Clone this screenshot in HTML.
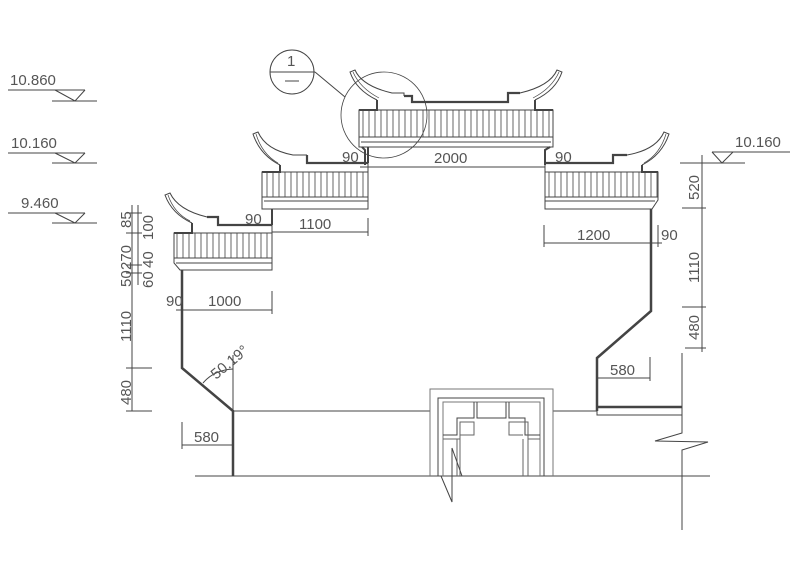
<!DOCTYPE html>
<html><head><meta charset="utf-8"><style>
html,body{margin:0;padding:0;background:#fff;}
svg{display:block;}
text{font-family:"Liberation Sans",sans-serif;fill:#555;font-size:15px;}
</style></head><body>
<svg width="800" height="566" viewBox="0 0 800 566" xmlns="http://www.w3.org/2000/svg">
<defs>
<pattern id="h" width="6" height="40" patternUnits="userSpaceOnUse">
<line x1="3" y1="0" x2="3" y2="40" stroke="#555" stroke-width="0.9"/>
</pattern>
</defs>
<g fill="none" stroke="#444" stroke-width="1">
<!-- elevation marks left -->
<line x1="8" y1="90" x2="85" y2="90"/><line x1="52" y1="101" x2="97" y2="101"/><path d="M55 90 L75 101 L85 90"/>
<line x1="8" y1="153" x2="85" y2="153"/><line x1="52" y1="163" x2="97" y2="163"/><path d="M55 153 L75 163 L85 153"/>
<line x1="8" y1="213" x2="85" y2="213"/><line x1="52" y1="223" x2="97" y2="223"/><path d="M55 213 L75 223 L85 213"/>
<!-- right elevation -->
<line x1="712" y1="152" x2="790" y2="152"/><line x1="680" y1="163" x2="745" y2="163"/><path d="M712 152 L722 163 L733 152"/>

<!-- callout -->
<circle cx="292" cy="72" r="22"/><line x1="270" y1="72" x2="315" y2="72"/><line x1="285" y1="81" x2="299" y2="81"/>
<line x1="315" y1="72" x2="345" y2="97"/>
<circle cx="384" cy="115" r="43" stroke-width="0.8"/>

<!-- Tier 1 -->
<rect x="359" y="110" width="194" height="27" fill="url(#h)"/>
<path d="M359 110 L359 147 L553 147 L553 110"/>
<line x1="359" y1="137" x2="553" y2="137"/><line x1="361" y1="142" x2="551" y2="142"/>
<path d="M362 147 L365 150 L365 165" stroke-width="2"/><path d="M550 147 L545 150 L545 165" stroke-width="2"/>
<path d="M359 110 L377 110 L377 100" stroke-width="2"/><path d="M553 110 L535 110 L535 100" stroke-width="2"/>
<path d="M404 96 L412 96 L412 102 L508 102 L508 93 L520 93" stroke-width="2.2"/>
<path d="M377 100 Q356 90 350 72 L355 70 Q362 86 392 93 L404 93 L404 96"/>
<path d="M535 100 Q556 90 562 72 L557 70 Q550 86 520 93"/>
<path d="M379 98 Q360 88 353 72 M533 98 Q552 88 559 72" stroke-width="0.7"/>

<!-- Tier 2 left -->
<rect x="262" y="172" width="106" height="25" fill="url(#h)"/>
<path d="M262 172 L262 209 L368 209 L368 163"/>
<line x1="262" y1="197" x2="368" y2="197"/><line x1="264" y1="201" x2="368" y2="201"/>
<path d="M262 172 L280 172 L280 165" stroke-width="2"/>
<path d="M307 155 L307 163 L368 163" stroke-width="2.2"/>
<path d="M280 165 Q260 155 253 134 L258 132 Q266 150 293 155 L307 155"/>
<path d="M278 163 Q262 154 256 134" stroke-width="0.7"/>

<!-- Tier 2 right -->
<rect x="545" y="172" width="113" height="25" fill="url(#h)"/>
<path d="M545 163 L545 209 L652 209 L658 200 L658 172"/>
<line x1="545" y1="197" x2="658" y2="197"/><line x1="545" y1="201" x2="655" y2="201"/>
<path d="M658 172 L642 172 L642 165" stroke-width="2"/>
<path d="M545 163 L613 163 L613 155 L627 155" stroke-width="2.2"/>
<path d="M642 165 Q662 155 669 134 L664 132 Q656 150 627 155"/>
<path d="M644 163 Q660 154 666 134" stroke-width="0.7"/>

<!-- Tier 3 left -->
<rect x="174" y="233" width="98" height="25" fill="url(#h)"/>
<path d="M174 233 L174 263 L180 270 L272 270 L272 225"/>
<line x1="174" y1="258" x2="272" y2="258"/><line x1="176" y1="263" x2="272" y2="263"/>
<path d="M174 233 L192 233 L192 223" stroke-width="2"/>
<path d="M207 217 L218 217 L218 225 L272 225" stroke-width="2.2"/>
<path d="M192 223 Q172 214 165 195 L170 193 Q178 210 207 217"/>
<path d="M190 221 Q174 213 168 195" stroke-width="0.7"/>
<line x1="272" y1="209" x2="272" y2="225" stroke-width="2"/>
<line x1="368" y1="147" x2="368" y2="163" stroke-width="2"/>

<!-- walls -->
<path d="M182 270 L182 368 L233 411 L233 476" stroke-width="2.5"/>
<path d="M651 209 L651 311 L597 358 L597 411" stroke-width="2.5"/>
<line x1="597" y1="407" x2="682" y2="407" stroke-width="2.5"/>
<path d="M597 407 L597 415 L682 415"/>
<line x1="233" y1="411" x2="430" y2="411"/><line x1="553" y1="411" x2="597" y2="411"/>
<line x1="195" y1="476" x2="710" y2="476"/>
<path d="M682 353 L682 433 L655 441 L708 442 L682 450 L682 530"/>

<!-- door -->
<path d="M430 476 L430 389 L553 389 L553 476" stroke="#777"/>
<path d="M438 476 L438 398 L544 398 L544 476"/>
<path d="M443 476 L443 402 L540 402 L540 476" stroke="#777"/>
<path d="M443 435 L457 435 L457 418 L474 418 L474 402 M477 402 L477 418 L506 418 L506 402 M509 402 L509 418 L525 418 L525 435 L540 435"/>
<path d="M443 439 L460 439 L460 476 M460 439 L460 422 L474 422 L474 435 L460 435 M540 439 L528 439 L528 476 M523 476 L523 439 M528 439 L528 422 L509 422 L509 435 L523 435 M457 439 L457 476" stroke="#666"/>
<path d="M441 476 L452 502 L452 448 L462 476"/>

<!-- dims -->
<line x1="365" y1="167" x2="545" y2="167"/><line x1="360" y1="167" x2="370" y2="167"/>
<line x1="272" y1="232" x2="368" y2="232"/><line x1="368" y1="218" x2="368" y2="236"/>
<line x1="176" y1="310" x2="272" y2="310"/><line x1="272" y1="291" x2="272" y2="314"/>
<line x1="544" y1="243" x2="662" y2="243"/><line x1="544" y1="225" x2="544" y2="247"/><line x1="658" y1="225" x2="658" y2="247"/>
<line x1="182" y1="445" x2="233" y2="445"/><line x1="182" y1="422" x2="182" y2="449"/>
<line x1="597" y1="378" x2="650" y2="378"/><line x1="650" y1="357" x2="650" y2="381"/>
<line x1="233" y1="355" x2="233" y2="411"/>
<path d="M203 383 Q214 370 233 369"/>
<!-- left vertical dims -->
<line x1="132" y1="205" x2="132" y2="411"/><line x1="138" y1="205" x2="138" y2="285"/>
<line x1="126" y1="213" x2="142" y2="213"/><line x1="126" y1="233" x2="142" y2="233"/><line x1="126" y1="265" x2="142" y2="265"/><line x1="126" y1="273" x2="142" y2="273"/>
<line x1="126" y1="368" x2="152" y2="368"/><line x1="126" y1="411" x2="152" y2="411"/>
<!-- right vertical dims -->
<line x1="702" y1="155" x2="702" y2="352"/>
<line x1="682" y1="208" x2="706" y2="208"/><line x1="682" y1="307" x2="706" y2="307"/><line x1="685" y1="348" x2="706" y2="348"/>
</g>
<g>
<text x="10" y="85">10.860</text>
<text x="11" y="148">10.160</text>
<text x="21" y="208">9.460</text>
<text x="735" y="147">10.160</text>
<text x="287" y="66" font-size="18">1</text>
<text x="342" y="162" font-size="14">90</text>
<text x="555" y="162" font-size="14">90</text>
<text x="434" y="163">2000</text>
<text x="245" y="224" font-size="14">90</text>
<text x="299" y="229">1100</text>
<text x="577" y="240">1200</text>
<text x="661" y="240" font-size="14">90</text>
<text x="166" y="306" font-size="14">90</text>
<text x="208" y="306">1000</text>
<text x="194" y="442">580</text>
<text x="610" y="375">580</text>
<text transform="translate(216,380) rotate(-40)">50.19°</text>
<text transform="translate(131,342) rotate(-90)">1110</text>
<text transform="translate(131,405) rotate(-90)">480</text>
<text transform="translate(131,287) rotate(-90)" font-size="14">50</text>
<text transform="translate(131,270) rotate(-90)" font-size="14">270</text>
<text transform="translate(131,228) rotate(-90)" font-size="14">85</text>
<text transform="translate(153,288) rotate(-90)" font-size="14">60</text>
<text transform="translate(153,268) rotate(-90)" font-size="14">40</text>
<text transform="translate(153,240) rotate(-90)" font-size="14">100</text>
<text transform="translate(699,200) rotate(-90)">520</text>
<text transform="translate(699,283) rotate(-90)">1110</text>
<text transform="translate(699,340) rotate(-90)">480</text>
</g>
</svg>
</body></html>
